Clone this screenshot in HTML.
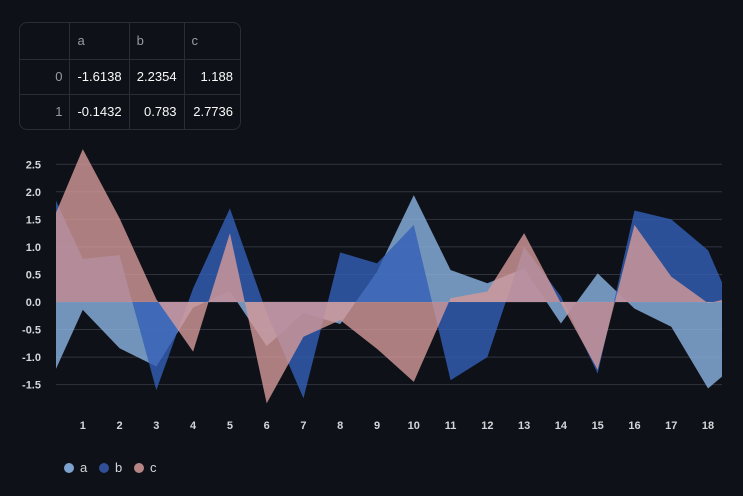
<!DOCTYPE html>
<html><head><meta charset="utf-8">
<style>
body{margin:0;background:#0e1117;width:743px;height:496px;overflow:hidden;font-family:"Liberation Sans","DejaVu Sans",sans-serif;}
#tbl{position:absolute;left:19px;top:22px;width:220px;height:106px;border:1px solid #2b2d36;border-radius:8px;overflow:hidden;background:#0e1117;}
table{border-collapse:collapse;font-size:13px;color:#fafafa;}
td,th{border-right:1px solid #2b2d36;border-bottom:1px solid #2b2d36;padding:0 7px;box-sizing:border-box;}
th{font-weight:normal;color:#9a9ca3;text-align:left;height:36px;}
td{text-align:right;height:35px;}
td.idx{color:#9a9ca3;}
</style></head><body>
<div id="tbl">
<table>
<tr><th style="width:51px"></th><th style="width:59px">a</th><th style="width:55px">b</th><th style="width:56px;border-right:none">c</th></tr>
<tr><td class="idx">0</td><td>-1.6138</td><td>2.2354</td><td style="border-right:none">1.188</td></tr>
<tr><td class="idx" style="border-bottom:none">1</td><td style="border-bottom:none">-0.1432</td><td style="border-bottom:none">0.783</td><td style="border:none">2.7736</td></tr>
</table></div>
<svg id="chart" width="743" height="496" style="position:absolute;left:0;top:0"></svg>
<script>
const idx=[0,1,2,3,4,5,6,7,8,9,10,11,12,13,14,15,16,17,18,19];
const seriesA=[-1.6138,-0.1432,-0.84,-1.17,-0.1,0.2,-0.8,-0.2,-0.4,0.55,1.94,0.58,0.34,0.61,-0.39,0.52,-0.12,-0.45,-1.57,-1.0];
const seriesB=[2.2354,0.783,0.85,-1.6,0.25,1.7,-0.2,-1.75,0.9,0.7,1.4,-1.42,-1.0,1.0,0.1,-1.3,1.66,1.5,0.94,-0.6];
const seriesC=[1.188,2.7736,1.52,0.05,-0.9,1.25,-1.84,-0.63,-0.33,-0.85,-1.45,0.07,0.19,1.25,-0.02,-1.23,1.4,0.46,-0.02,0.13];
const yTicks=[-1.5,-1.0,-0.5,0.0,0.5,1.0,1.5,2.0,2.5];
const xTicks=[1,2,3,4,5,6,7,8,9,10,11,12,13,14,15,16,17,18];
const NS="http://www.w3.org/2000/svg";
const svg=document.getElementById('chart');
const L=56,R=722;
const X=i=>46+36.78*i;
const Y=v=>302-55.1*v;
function mk(t,a){const e=document.createElementNS(NS,t);for(const k in a)e.setAttribute(k,a[k]);return e;}
const defs=mk('defs',{});const cp=mk('clipPath',{id:'cp'});cp.appendChild(mk('rect',{x:L,y:140,width:R-L,height:280}));defs.appendChild(cp);svg.appendChild(defs);
yTicks.forEach(t=>{
 const l=mk('line',{x1:L,x2:R,y1:Y(t),y2:Y(t),stroke:'#31333f','stroke-width':1});
 
 
 svg.appendChild(l);
 const tx=mk('text',{x:41,y:Y(t)+4,'text-anchor':'end','font-size':11,'font-weight':'bold',fill:'#d5d6d9'});
 tx.textContent=t.toFixed(1);
 
 
 svg.appendChild(tx);
});
xTicks.forEach(t=>{
 const tx=mk('text',{x:X(t),y:429,'text-anchor':'middle','font-size':11,'font-weight':'bold',fill:'#d5d6d9'});
 tx.textContent=t;
 
 
 svg.appendChild(tx);
});
const g=mk('g',{'clip-path':'url(#cp)'});svg.appendChild(g);
const defsS=[['a',seriesA,'#8cb4e3'],['b',seriesB,'#3360b8'],['c',seriesC,'#d69a9a']];
defsS.forEach(([n,vals,col])=>{
 let d='M'+X(idx[0])+','+Y(0);
 vals.forEach((v,i)=>{d+=' L'+X(idx[i])+','+Y(v);});
 d+=' L'+X(idx[idx.length-1])+','+Y(0)+' Z';
 const p=mk('path',{d:d,fill:col,'fill-opacity':0.8});
 
 
 g.appendChild(p);
});
const legCols={a:'#7ea2cf',b:'#2f4f96',c:'#b88585'};
['a','b','c'].forEach((n,i)=>{
 const gx=69+35*i;
 const c=mk('circle',{cx:gx,cy:468,r:5,fill:legCols[n]});
 
 
 svg.appendChild(c);
 const t=mk('text',{x:gx+11,y:472,'font-size':13,fill:'#d5d6d9'});
 t.textContent=n;
 
 
 svg.appendChild(t);
});
</script>
</body></html>
